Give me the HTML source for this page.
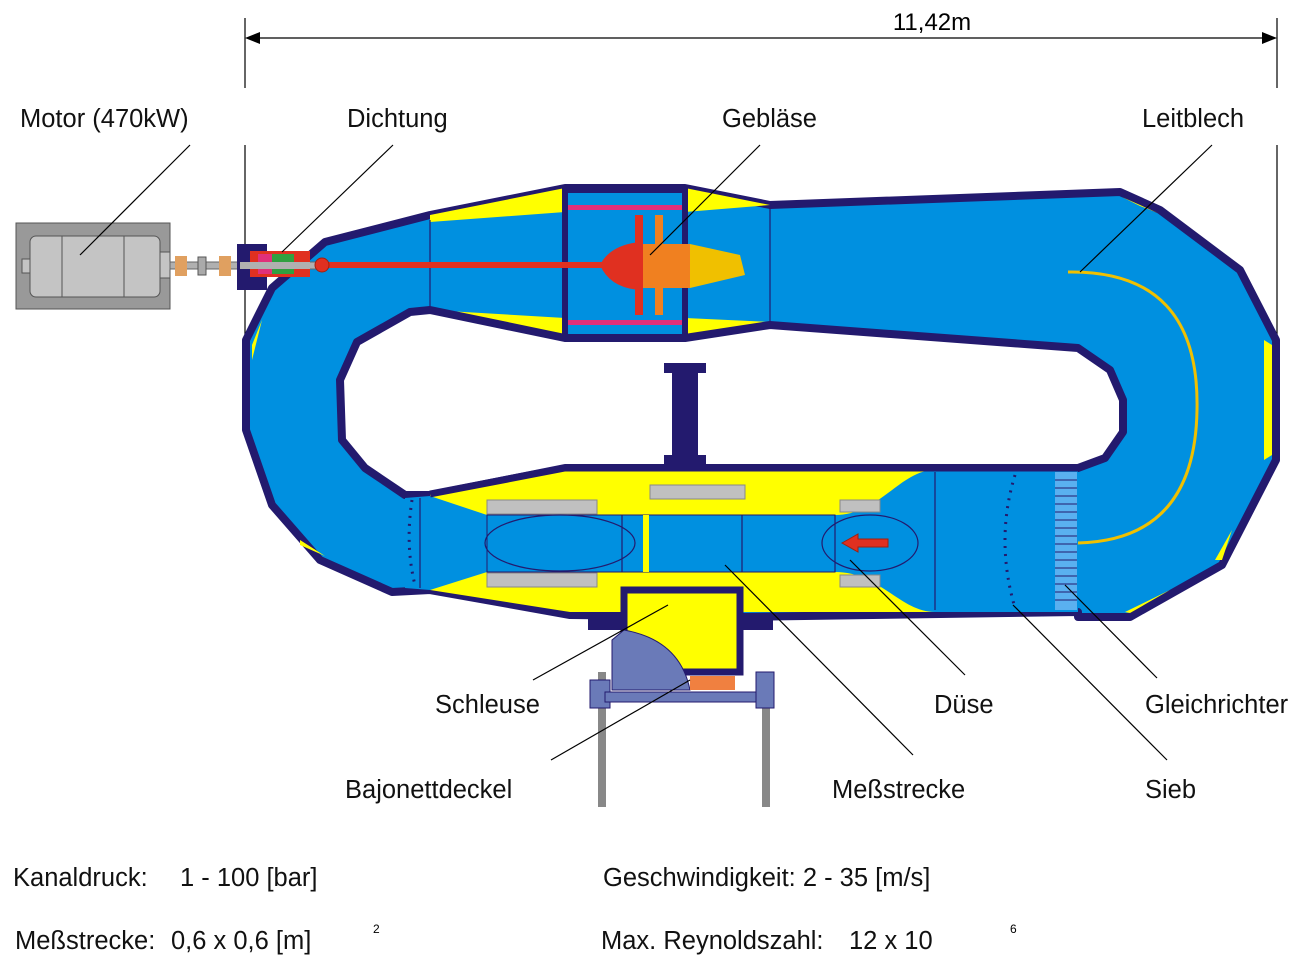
<!DOCTYPE html>
<html><head><meta charset="utf-8"><style>
html,body{margin:0;padding:0;background:#fff;}
svg{display:block;font-family:"Liberation Sans",sans-serif;}
</style></head><body>
<svg width="1301" height="963" viewBox="0 0 1301 963" xmlns="http://www.w3.org/2000/svg">
<g stroke="#000" stroke-width="1.2">
<line x1="245" y1="18" x2="245" y2="88"/><line x1="245" y1="145" x2="245" y2="355"/>
<line x1="1277" y1="18" x2="1277" y2="88"/><line x1="1277" y1="145" x2="1277" y2="355"/>
<line x1="255" y1="38" x2="1267" y2="38"/>
</g>
<polygon points="245,38 260,32 260,44" fill="#000"/>
<polygon points="1277,38 1262,32 1262,44" fill="#000"/>
<text x="932" y="30" font-size="24" text-anchor="middle">11,42m</text>

<!-- outer loop -->
<polygon points="325,242 430,215 565,188 685,188 770,205 1120,192 1160,210 1240,270 1276,340 1276,460 1240,530 1222,565 1130,617 1078,617 1078,612 740,617 570,615 430,590 392,592 320,560 272,505 246,430 246,340 272,288" fill="#0090e0" stroke="#231a6e" stroke-width="8" stroke-linejoin="round"/>
<!-- corner yellows -->
<polygon points="1122,197 1158,213 1140,206" fill="#ffff00"/>
<polygon points="1264,340 1272,345 1272,455 1264,460" fill="#ffff00"/>
<polygon points="1215,560 1232,530 1222,560" fill="#ffff00"/>
<polygon points="1125,612 1170,590 1130,613" fill="#ffff00"/>
<polygon points="252,345 262,320 252,360" fill="#ffff00"/>
<polygon points="300,540 325,556 300,545" fill="#ffff00"/>
<!-- fan section -->
<polygon points="430,215 565,188 565,212 430,222" fill="#ffff00"/>
<polygon points="685,188 770,205 685,212" fill="#ffff00"/>
<polygon points="430,310 565,318 565,340" fill="#ffff00"/>
<polygon points="685,318 770,322 685,340" fill="#ffff00"/>
<rect x="565" y="190" width="120" height="150" fill="none" stroke="#231a6e" stroke-width="6"/>
<g stroke="#231a6e" stroke-width="1.2"><line x1="430" y1="220" x2="430" y2="312"/><line x1="770" y1="208" x2="770" y2="324"/></g>
<rect x="568" y="205" width="114" height="5" fill="#e0307a"/>
<rect x="568" y="320" width="114" height="5" fill="#e0307a"/>
<!-- inner hole -->
<polygon points="410,312 430,310 565,338 685,338 770,325 1078,348 1110,370 1123,400 1123,432 1105,458 1078,468 565,468 430,495 405,495 365,468 342,440 340,380 357,342" fill="#fff" stroke="#231a6e" stroke-width="8" stroke-linejoin="round"/>
<!-- fan -->
<rect x="320" y="262" width="290" height="6" fill="#e03020"/>
<path d="M600,265 Q610,245 640,242 L640,290 Q610,288 600,265Z" fill="#e03020"/>
<rect x="640" y="244" width="50" height="44" fill="#f08020"/>
<path d="M690,244 L740,255 L745,275 L690,288Z" fill="#f0c000"/>
<rect x="635" y="215" width="8" height="100" fill="#e03020"/>
<rect x="655" y="215" width="8" height="100" fill="#f08020"/>
<!-- strut -->
<rect x="664" y="363" width="42" height="10" fill="#231a6e"/>
<rect x="672" y="370" width="26" height="95" fill="#231a6e"/>
<rect x="664" y="455" width="42" height="16" fill="#231a6e"/>
<!-- test section -->
<polygon points="430,494 565,470 1078,470 1078,612 740,612 570,612 430,590" fill="#ffff00"/>
<polygon points="405,498 430,496 487,515 487,572 430,590 405,588" fill="#0090e0"/>
<rect x="487" y="515" width="348" height="57" fill="#0090e0" stroke="#231a6e" stroke-width="1"/>
<path d="M835,515 C880,515 900,470 935,470 L1078,470 L1078,612 L935,612 C900,612 880,572 835,572Z" fill="#0090e0"/>
<rect x="487" y="500" width="110" height="14" fill="#c0c0c0" stroke="#888"/>
<rect x="487" y="573" width="110" height="14" fill="#c0c0c0" stroke="#888"/>
<rect x="650" y="485" width="95" height="14" fill="#c0c0c0" stroke="#888"/>
<rect x="840" y="500" width="40" height="12" fill="#c0c0c0" stroke="#888"/>
<rect x="840" y="575" width="40" height="12" fill="#c0c0c0" stroke="#888"/>
<line x1="646" y1="515" x2="646" y2="572" stroke="#ffff00" stroke-width="6"/>
<ellipse cx="560" cy="543" rx="75" ry="28" fill="none" stroke="#231a6e" stroke-width="1.2"/>
<ellipse cx="870" cy="543" rx="48" ry="28" fill="none" stroke="#231a6e" stroke-width="1.2"/>
<g stroke="#231a6e" stroke-width="1.2"><line x1="622" y1="515" x2="622" y2="572"/><line x1="742" y1="515" x2="742" y2="572"/><line x1="835" y1="515" x2="835" y2="572"/><line x1="935" y1="472" x2="935" y2="610"/><line x1="420" y1="498" x2="420" y2="588"/></g>
<polygon points="842,543 858,534 858,539 888,539 888,547 858,547 858,552" fill="#e03020" stroke="#a02010"/>
<rect x="1055" y="472" width="22" height="138" fill="#5ab0f0"/>
<g stroke="#231a6e" stroke-width="1">
<path d="M1055,480H1077M1055,488H1077M1055,496H1077M1055,504H1077M1055,512H1077M1055,520H1077M1055,528H1077M1055,536H1077M1055,544H1077M1055,552H1077M1055,560H1077M1055,568H1077M1055,576H1077M1055,584H1077M1055,592H1077M1055,600H1077"/>
</g>
<path d="M1068,272 Q1200,270 1197,410 Q1195,540 1078,543" fill="none" stroke="#f0c000" stroke-width="3"/>
<path d="M1015,475 Q995,540 1015,608" fill="none" stroke="#231a6e" stroke-width="3" stroke-dasharray="2,6"/>
<path d="M412,500 Q405,545 415,585" fill="none" stroke="#231a6e" stroke-width="3" stroke-dasharray="2,6"/>
<line x1="565" y1="468" x2="1078" y2="468" stroke="#231a6e" stroke-width="7"/>
<line x1="430" y1="494" x2="565" y2="468" stroke="#231a6e" stroke-width="7"/>
<!-- schleuse -->
<rect x="588" y="614" width="185" height="16" fill="#231a6e"/>
<rect x="624" y="590" width="116" height="82" fill="#ffff00" stroke="#231a6e" stroke-width="7"/>
<path d="M624,630 Q680,640 690,690 L612,690 L612,640Z" fill="#6a7ab8" stroke="#231a6e"/>
<rect x="690" y="676" width="45" height="14" fill="#f08040"/>
<rect x="598" y="672" width="8" height="135" fill="#888"/>
<rect x="762" y="672" width="8" height="135" fill="#888"/>
<rect x="590" y="680" width="20" height="28" fill="#6a7ab8" stroke="#231a6e"/>
<rect x="605" y="692" width="160" height="10" fill="#6a7ab8" stroke="#231a6e"/>
<rect x="756" y="672" width="18" height="36" fill="#6a7ab8" stroke="#231a6e"/>
<!-- motor & coupling -->
<rect x="16" y="223" width="154" height="86" fill="#999" stroke="#555"/>
<rect x="30" y="236" width="130" height="61" rx="6" fill="#c4c4c4" stroke="#555"/>
<g stroke="#555"><line x1="62" y1="236" x2="62" y2="297"/><line x1="124" y1="236" x2="124" y2="297"/></g>
<rect x="22" y="259" width="8" height="14" fill="#c4c4c4" stroke="#555"/>
<rect x="160" y="252" width="10" height="26" fill="#c4c4c4" stroke="#555"/>
<rect x="170" y="262" width="150" height="7" fill="#b0b0b0" stroke="#666"/>
<rect x="175" y="256" width="12" height="20" fill="#e0a060"/>
<rect x="198" y="257" width="8" height="18" fill="#aaa" stroke="#555"/>
<rect x="219" y="256" width="12" height="20" fill="#e0a060"/>
<rect x="237" y="244" width="30" height="46" fill="#231a6e"/>
<rect x="250" y="251" width="60" height="26" fill="#e03020"/>
<rect x="258" y="254" width="14" height="20" fill="#e0307a"/>
<rect x="272" y="254" width="22" height="20" fill="#30a040"/>
<rect x="240" y="262" width="70" height="7" fill="#b0b0b0"/>
<circle cx="322" cy="265" r="7" fill="#e03020" stroke="#a02010"/>
<!-- leaders -->
<g stroke="#000" stroke-width="1.2">
<line x1="190" y1="145" x2="80" y2="255"/><line x1="393" y1="145" x2="282" y2="252"/>
<line x1="760" y1="145" x2="650" y2="255"/><line x1="1212" y1="145" x2="1080" y2="272"/>
<line x1="533" y1="680" x2="668" y2="605"/><line x1="551" y1="760" x2="690" y2="680"/>
<line x1="913" y1="755" x2="725" y2="565"/><line x1="965" y1="675" x2="850" y2="560"/>
<line x1="1157" y1="678" x2="1065" y2="585"/><line x1="1167" y1="760" x2="1013" y2="605"/>
</g>
<g font-size="25.5" fill="#111">
<text x="20" y="127">Motor (470kW)</text>
<text x="347" y="127">Dichtung</text>
<text x="722" y="127">Gebläse</text>
<text x="1142" y="127">Leitblech</text>
<text x="435" y="713">Schleuse</text>
<text x="934" y="713">Düse</text>
<text x="1145" y="713">Gleichrichter</text>
<text x="345" y="798">Bajonettdeckel</text>
<text x="832" y="798">Meßstrecke</text>
<text x="1145" y="798">Sieb</text>
<text x="13" y="886">Kanaldruck:</text><text x="180" y="886">1 - 100 [bar]</text>
<text x="603" y="886">Geschwindigkeit: 2 - 35 [m/s]</text>
<text x="15" y="949">Meßstrecke:</text><text x="171" y="949">0,6 x 0,6 [m]</text>
<text x="601" y="949">Max. Reynoldszahl:</text><text x="849" y="949">12 x 10</text>
</g>
<text x="373" y="933" font-size="12">2</text>
<text x="1010" y="933" font-size="12">6</text>
</svg>
</body></html>
